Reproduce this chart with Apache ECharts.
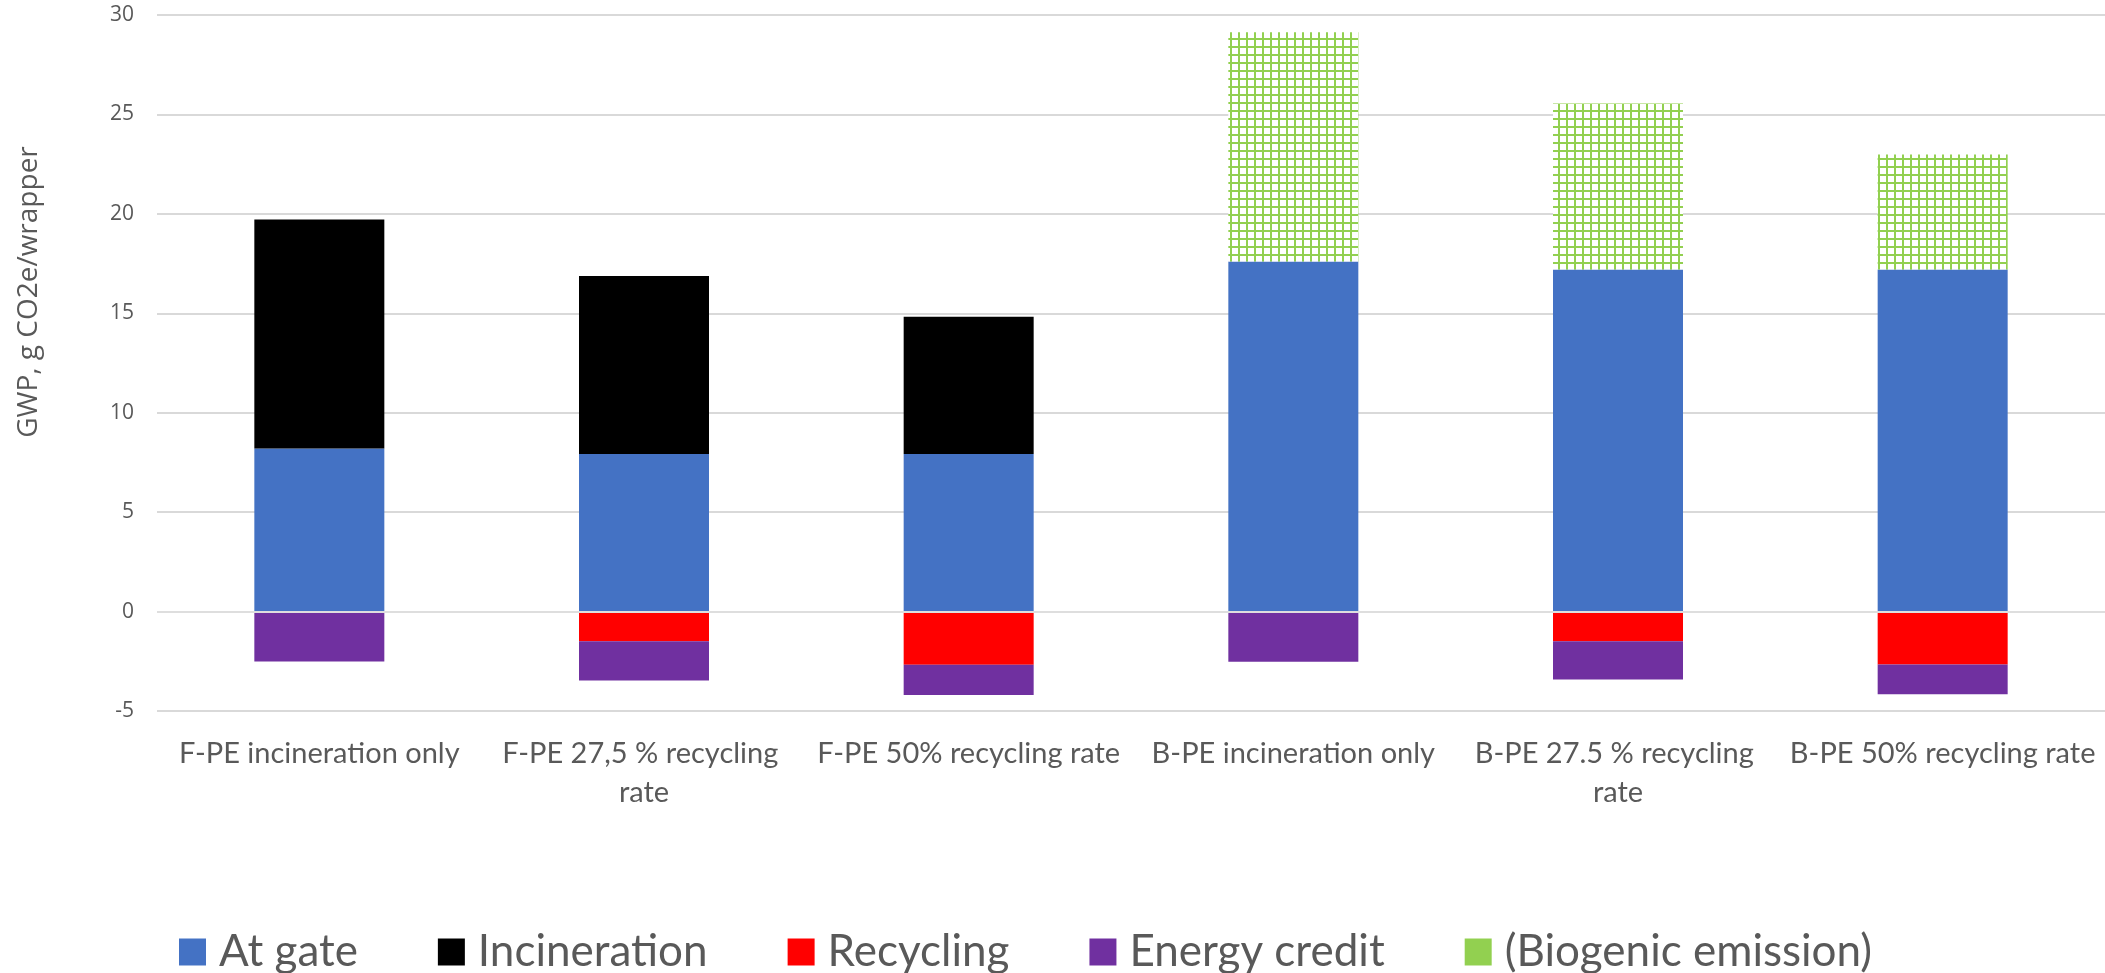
<!DOCTYPE html>
<html>
<head>
<meta charset="utf-8">
<style>
  html, body { margin: 0; padding: 0; background: #ffffff; }
  #chart { width: 2105px; height: 973px; }
</style>
<script src="https://cdn.jsdelivr.net/npm/echarts@6/dist/echarts.min.js"></script>
</head>
<body>
<div id="chart"></div>
<script>
// Global warming potential per wrapper, by scenario and life-cycle stage
const categories = [
  'F-PE incineration only',
  'F-PE 27,5 % recycling rate',
  'F-PE 50% recycling rate',
  'B-PE incineration only',
  'B-PE 27.5 % recycling rate',
  'B-PE 50% recycling rate'
];
const atGate       = [8.2, 7.92, 7.92, 17.6, 17.2, 17.2];
const incineration = [11.51, 8.96, 6.9, null, null, null];
const recycling    = [null, -1.49, -2.68, null, -1.49, -2.66];
const energyCredit = [-2.51, -1.97, -1.51, -2.52, -1.93, -1.5];
const biogenic     = [null, null, null, 11.53, 8.35, 5.79];
const yTicks = { min: -5, max: 30, step: 5 };

const seriesNames = ['At gate', 'Incineration', 'Recycling', 'Energy credit', '(Biogenic emission)'];
const colors = { gate: '#4472C4', incin: '#000000', recyc: '#FF0000', credit: '#7030A0', bio: '#92D050' };

// Small-grid hatch used for the biogenic part of the bars
function gridPattern(color) {
  const c = document.createElement('canvas');
  c.width = 8; c.height = 8;
  const ctx = c.getContext('2d');
  ctx.fillStyle = '#ffffff';
  ctx.fillRect(0, 0, 8, 8);
  ctx.fillStyle = color;
  ctx.fillRect(6, 0, 2, 8);
  ctx.fillRect(0, 6, 8, 2);
  return c;
}

const labelFont = 'Lato, "Noto Sans", sans-serif';
const chart = echarts.init(document.getElementById('chart'), null, { renderer: 'canvas' });

function bar(name, data, color, extra) {
  return Object.assign({
    name: name,
    type: 'bar',
    stack: 'total',
    barWidth: 130,
    data: data,
    itemStyle: { color: color }
  }, extra || {});
}

chart.setOption({
  animation: false,
  backgroundColor: '#ffffff',
  grid: { left: 157, right: 0, top: 15, bottom: 262, containLabel: false },
  xAxis: {
    type: 'category',
    data: categories,
    axisLine: { show: false },
    axisTick: { show: false },
    axisLabel: {
      interval: 0,
      margin: 23,
      color: '#595959',
      fontFamily: labelFont,
      fontSize: 29,
      lineHeight: 39,
      width: 312,
      overflow: 'break'
    }
  },
  yAxis: {
    type: 'value',
    min: yTicks.min,
    max: yTicks.max,
    interval: yTicks.step,
    axisLine: { show: false },
    axisTick: { show: false },
    axisLabel: {
      margin: 23,
      color: '#595959',
      fontFamily: '"Open Sans", "Noto Sans", sans-serif',
      fontSize: 21
    },
    splitLine: { lineStyle: { color: '#d9d9d9', width: 2 } }
  },
  legend: {
    left: 174,
    top: 925,
    itemWidth: 27,
    itemHeight: 27,
    itemGap: 80,
    icon: 'rect',
    textStyle: {
      color: '#595959',
      fontFamily: labelFont,
      fontSize: 44,
      padding: [0, 0, 0, 8]
    },
    data: [
      { name: seriesNames[0] },
      { name: seriesNames[1] },
      { name: seriesNames[2] },
      { name: seriesNames[3] },
      { name: seriesNames[4], itemStyle: { color: colors.bio } }
    ]
  },
  graphic: [{
    type: 'text',
    x: 29,
    y: 292,
    rotation: Math.PI / 2,
    style: {
      text: 'GWP, g CO2e/wrapper',
      fill: '#595959',
      font: '28px "Open Sans", "Noto Sans", sans-serif',
      textAlign: 'center',
      textVerticalAlign: 'middle'
    }
  }],
  series: [
    bar(seriesNames[0], atGate, colors.gate, {
      markLine: {
        silent: true,
        symbol: 'none',
        label: { show: false },
        lineStyle: { color: '#dedede', width: 2, type: 'solid' },
        data: [{ yAxis: 0 }]
      }
    }),
    bar(seriesNames[1], incineration, colors.incin),
    bar(seriesNames[2], recycling, colors.recyc),
    bar(seriesNames[3], energyCredit, colors.credit),
    bar(seriesNames[4], biogenic, { image: gridPattern(colors.bio), repeat: 'repeat' })
  ]
});
</script>
</body>
</html>
